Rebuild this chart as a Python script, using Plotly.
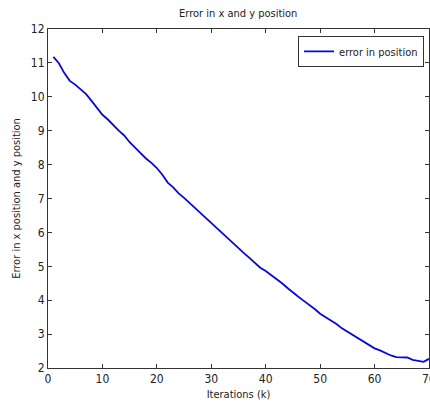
import plotly.graph_objects as go

iterations = list(range(1, 71))
error_pos = [11.18, 10.99, 10.70, 10.47, 10.36, 10.22, 10.08, 9.88, 9.66, 9.47,
             9.33, 9.15, 9.00, 8.86, 8.66, 8.50, 8.33, 8.18, 8.05, 7.90,
             7.70, 7.47, 7.33, 7.15, 7.02, 6.87, 6.72, 6.57, 6.42, 6.28,
             6.13, 5.97, 5.82, 5.68, 5.53, 5.39, 5.25, 5.10, 4.96, 4.86,
             4.74, 4.63, 4.50, 4.36, 4.22, 4.10, 3.98, 3.87, 3.74, 3.60,
             3.50, 3.40, 3.30, 3.17, 3.07, 2.98, 2.87, 2.77, 2.67, 2.58,
             2.52, 2.44, 2.37, 2.32, 2.32, 2.31, 2.24, 2.20, 2.18, 2.27]

x_ticks = [0, 10, 20, 30, 40, 50, 60, 70]
y_ticks = [2, 3, 4, 5, 6, 7, 8, 9, 10, 11, 12]

FONT = "Liberation Sans Narrow, DejaVu Sans Condensed, Liberation Sans, Arial, sans-serif"
TXT = "#222222"

fig = go.Figure()
fig.add_trace(go.Scatter(x=iterations, y=error_pos, mode="lines",
                         name="error in position",
                         line=dict(color="#0808d8", width=1.8)))

axis_common = dict(showline=True, linecolor="#333333", linewidth=1, mirror="ticks",
                   ticks="inside", ticklen=4, tickcolor="#333333", showgrid=False,
                   zeroline=False, tickfont=dict(family=FONT, size=12, color=TXT))

fig.update_layout(
    width=430, height=402,
    margin=dict(l=48, r=1, t=29, b=34),
    paper_bgcolor="white", plot_bgcolor="white",
    title=dict(text="Error in x and y position", x=0.554, xanchor="center",
               y=0.968, yanchor="middle", font=dict(family=FONT, size=11, color=TXT)),
    xaxis=dict(range=[0, 70], tickvals=x_ticks, **axis_common,
               title=dict(text="Iterations (k)", standoff=4,
                          font=dict(family=FONT, size=11, color=TXT))),
    yaxis=dict(range=[2, 12], tickvals=y_ticks, **axis_common,
               title=dict(text="Error in x position and y position", standoff=8,
                          font=dict(family=FONT, size=11, color=TXT))),
    legend=dict(x=0.987, xanchor="right", y=0.98, yanchor="top",
                bgcolor="white", bordercolor="#333333", borderwidth=1,
                font=dict(family=FONT, size=11, color=TXT)),
    showlegend=True,
)

# the last x tick label is cut by the window edge in the reference
fig.add_annotation(x=x_ticks[-1], xref="x", y=0, yref="paper", yanchor="top",
                   yshift=-2, text=str(x_ticks[-1]), showarrow=False,
                   font=dict(family=FONT, size=12, color=TXT))

fig.write_html("out.html")
